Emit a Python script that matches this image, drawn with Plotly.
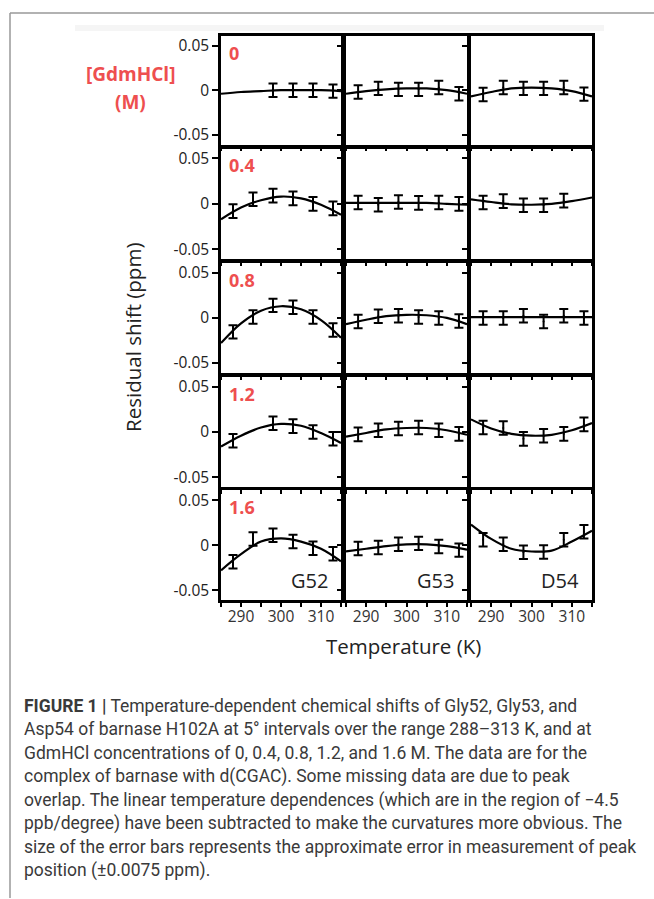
import plotly.graph_objects as go

W, H = 654, 899

# ---------------- data ----------------
temps = [288, 293, 298, 303, 308, 313]
curve_t = [285, 290, 295, 300, 305, 310, 315]
concs = ["0", "0.4", "0.8", "1.2", "1.6"]
residues = ["G52", "G53", "D54"]
err = 0.0075

g52_pts = [
    [None, None, 0.000, 0.000, 0.000, -0.001],
    [-0.008, 0.005, 0.009, 0.006, 0.000, -0.005],
    [-0.0155, 0.001, 0.014, 0.012, 0.001, -0.0135],
    [-0.0095, None, 0.0098, 0.0065, 0.000, -0.0073],
    [-0.0185, 0.007, 0.011, 0.004, -0.0033, -0.0095],
]
g52_curve = [
    [-0.004, -0.002, -0.001, 0.000, 0.000, 0.000, -0.001],
    [-0.017, -0.004, 0.004, 0.008, 0.006, -0.001, -0.012],
    [-0.028, -0.006, 0.008, 0.013, 0.0096, -0.0024, -0.022],
    [-0.016, -0.004, 0.005, 0.009, 0.007, -0.001, -0.012],
    [-0.028, -0.010, 0.004, 0.0075, 0.004, -0.004, -0.018],
]
g53_pts = [
    [-0.002, 0.002, 0.001, 0.001, 0.003, -0.004],
    [0.0015, -0.001, 0.002, 0.001, 0.0015, 0.000],
    [-0.004, 0.002, 0.0025, 0.001, 0.000, -0.0035],
    [-0.0025, 0.002, 0.004, 0.005, 0.002, -0.002],
    [-0.0037, -0.0026, 0.001, 0.002, -0.0015, -0.0055],
]
g53_curve = [
    [-0.004, -0.001, 0.001, 0.002, 0.002, 0.000, -0.004],
    [0.001, 0.001, 0.001, 0.001, 0.001, 0.000, -0.001],
    [-0.007, -0.002, 0.002, 0.0035, 0.003, 0.000, -0.007],
    [-0.005, -0.001, 0.003, 0.0045, 0.0045, 0.002, -0.003],
    [-0.007, -0.004, -0.001, 0.001, 0.001, -0.001, -0.005],
]
d54_pts = [
    [-0.0048, 0.003, 0.002, 0.002, 0.003, -0.0044],
    [0.0015, 0.003, -0.0015, -0.0015, 0.0035, None],
    [0.000, 0.000, 0.0025, -0.004, 0.0025, 0.000],
    [0.005, 0.0045, -0.0075, -0.004, -0.002, 0.0085],
    [0.006, 0.001, -0.0078, -0.0075, 0.006, 0.015],
]
d54_curve = [
    [-0.007, -0.002, 0.002, 0.003, 0.002, -0.001, -0.007],
    [0.005, 0.002, -0.0005, -0.001, 0.000, 0.003, 0.007],
    [0.001, 0.001, 0.001, 0.001, 0.001, 0.001, 0.001],
    [0.014, 0.004, -0.002, -0.004, -0.003, 0.002, 0.010],
    [0.023, 0.007, -0.004, -0.007, -0.006, 0.004, 0.016],
]

y_tickvals = [-0.05, 0, 0.05]
y_ticktext = ["-0.05", "0", "0.05"]
x_tickvals = [285, 290, 295, 300, 305, 310, 315]
x_ticktext = ["", "290", "", "300", "", "310", ""]

caption_lines = [
    "<b>FIGURE 1 |</b> Temperature-dependent chemical shifts of Gly52, Gly53, and",
    "Asp54 of barnase H102A at 5° intervals over the range 288–313 K, and at",
    "GdmHCl concentrations of 0, 0.4, 0.8, 1.2, and 1.6 M. The data are for the",
    "complex of barnase with d(CGAC). Some missing data are due to peak",
    "overlap. The linear temperature dependences (which are in the region of −4.5",
    "ppb/degree) have been subtracted to make the curvatures more obvious. The",
    "size of the error bars represents the approximate error in measurement of peak",
    "position (±0.0075 ppm).",
]

# ---------------- layout geometry (pixels) ----------------
col_px = [(221, 341), (346, 467), (471, 592)]
row_px = [(34, 143), (147, 258), (262, 372), (376, 487), (490, 600)]

def px(x):
    return x / W

def py(y):
    return 1 - y / H

RED = "#ee4f4f"
FIG_FONT = "Open Sans"

pts_all = [g52_pts, g53_pts, d54_pts]
curve_all = [g52_curve, g53_curve, d54_curve]

fig = go.Figure()
layout = dict(
    width=W, height=H, margin=dict(l=0, r=0, t=0, b=0),
    paper_bgcolor="white", plot_bgcolor="white", showlegend=False,
    font=dict(family=FIG_FONT, color="#222"),
)

for r in range(5):
    for c in range(3):
        idx = r * 3 + c + 1
        xa = "x" if idx == 1 else f"x{idx}"
        ya = "y" if idx == 1 else f"y{idx}"
        fig.add_trace(go.Scatter(
            x=curve_t, y=curve_all[c][r], mode="lines",
            line=dict(color="black", width=2.2, shape="spline", smoothing=1.0),
            xaxis=xa, yaxis=ya, hoverinfo="skip", cliponaxis=True,
        ))
        xs = [t for t, v in zip(temps, pts_all[c][r]) if v is not None]
        ys = [v for v in pts_all[c][r] if v is not None]
        fig.add_trace(go.Scatter(
            x=xs, y=ys, mode="markers",
            marker=dict(size=2, color="black"),
            error_y=dict(type="constant", value=err, color="black",
                         thickness=2, width=4.5),
            xaxis=xa, yaxis=ya, cliponaxis=False,
        ))
        x0, x1 = col_px[c]
        y0, y1 = row_px[r]
        xkey = "xaxis" if idx == 1 else f"xaxis{idx}"
        ykey = "yaxis" if idx == 1 else f"yaxis{idx}"
        layout[xkey] = dict(
            domain=[px(x0), px(x1)], anchor=ya, range=[285, 315],
            showgrid=False, zeroline=False, showline=True, mirror=True,
            linecolor="black", linewidth=2.5,
            ticks="outside", ticklen=4, tickwidth=1.5, tickcolor="black",
            tickmode="array", tickvals=x_tickvals,
            ticktext=x_ticktext if r == 4 else [""] * len(x_tickvals),
            showticklabels=(r == 4), ticklabelstandoff=-3,
            tickfont=dict(family=FIG_FONT, size=15.5, color="#333"),
            fixedrange=True,
        )
        layout[ykey] = dict(
            domain=[py(y1), py(y0)], anchor=xa, range=[-0.061, 0.061],
            showgrid=False, zeroline=False, showline=True, mirror=True,
            linecolor="black", linewidth=2.5,
            ticks="outside", ticklen=6, tickwidth=1.5, tickcolor="black",
            tickmode="array", tickvals=y_tickvals, ticktext=y_ticktext,
            showticklabels=(c == 0),
            tickfont=dict(family=FIG_FONT, size=15.5, color="#222"),
            fixedrange=True,
        )

annotations = []

def ann(x, y, text, size, color="#222", xanchor="center", angle=0, family=FIG_FONT):
    annotations.append(dict(
        x=px(x), y=py(y), xref="paper", yref="paper", text=text, showarrow=False,
        xanchor=xanchor, yanchor="middle", textangle=angle,
        font=dict(family=family, size=size, color=color),
    ))

for r, lab in enumerate(concs):
    ann(col_px[0][0] + 6, row_px[r][0] + 17, f"<b>{lab}</b>", 18, RED, "left")
ann(130, 72, "<b>[GdmHCl]</b>", 19, RED)
ann(130, 100, "<b>(M)</b>", 19, RED)
for c, lab in enumerate(residues):
    ann(col_px[c][1] - 11, 580, lab, 20, "#222", "right")
ann(133, 337, "Residual shift (ppm)", 20.5, "#222", "center", -90)
ann(403, 646, "Temperature (K)", 20.5, "#222")
for i, line in enumerate(caption_lines):
    ann(22, 706 + i * 23.7, line, 17.5, "#3a3a3a", "left", 0, "Roboto")
layout["annotations"] = annotations

layout["shapes"] = [
    dict(type="rect", xref="paper", yref="paper", x0=px(75), x1=px(604),
         y0=py(29), y1=py(23), fillcolor="#f5f5f5", line=dict(width=0), layer="below"),
    dict(type="line", xref="paper", yref="paper", x0=px(10), x1=1.0,
         y0=py(11), y1=py(11), line=dict(color="#999", width=1.5)),
    dict(type="line", xref="paper", yref="paper", x0=px(10), x1=px(10),
         y0=py(11), y1=0, line=dict(color="#999", width=1.5)),
]

fig.update_layout(**layout)
fig.write_html("out.html")
